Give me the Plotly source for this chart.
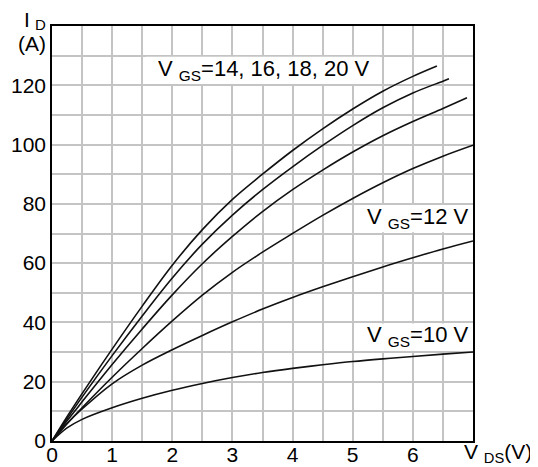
import plotly.graph_objects as go

# Drain-source voltage samples (V)
vds = [0, 0.25, 0.5, 1, 1.5, 2, 2.5, 3, 3.5, 4, 4.5, 5, 5.5, 6, 6.5, 7]

# Drain current (A) per gate voltage
id_vgs20 = [0, 8.2, 16, 31, 45.5, 59.3, 71.3, 81.5, 90, 98, 105.3, 112, 118, 123]
vds_vgs20_end = 6.4
id_vgs20_end = 126.5

id_vgs18 = [0, 7.5, 14.8, 28.8, 42.2, 55, 66.4, 76.2, 84.8, 92.5, 99.7, 106.4, 112.4, 117.4, 121.4]
vds_vgs18_end = 6.6
id_vgs18_end = 122.2

id_vgs16 = [0, 6.8, 13.2, 25.8, 37.8, 49.3, 59.8, 69, 77.4, 84.8, 91.4, 97.5, 103, 107.8, 112.2]
vds_vgs16_end = 6.9
id_vgs16_end = 115.8

id_vgs14 = [0, 5.8, 11.2, 21.5, 31.2, 40.5, 49.2, 56.9, 63.7, 70, 76.1, 81.8, 87.1, 91.9, 96.1, 99.8]
id_vgs12 = [0, 5.9, 10.8, 19.3, 25.6, 30.8, 35.6, 40.2, 44.5, 48.4, 52, 55.4, 58.7, 61.8, 64.8, 67.5]
id_vgs10 = [0, 4.4, 7.3, 11.2, 14.4, 17.1, 19.4, 21.4, 23.1, 24.5, 25.7, 26.8, 27.7, 28.5, 29.3, 30]

# Axis ticks (labelled) and grid steps
x_tickvals = [0, 1, 2, 3, 4, 5, 6]
x_ticktext = ["0", "1", "2", "3", "4", "5", "6"]
y_tickvals = [0, 20, 40, 60, 80, 100, 120]
y_ticktext = ["0", "20", "40", "60", "80", "100", "120"]

FONT = "Liberation Sans, Arial, sans-serif"

series = [
    (vds[:len(id_vgs20)] + [vds_vgs20_end], id_vgs20 + [id_vgs20_end]),
    (vds[:len(id_vgs18)] + [vds_vgs18_end], id_vgs18 + [id_vgs18_end]),
    (vds[:len(id_vgs16)] + [vds_vgs16_end], id_vgs16 + [id_vgs16_end]),
    (vds, id_vgs14),
    (vds, id_vgs12),
    (vds, id_vgs10),
]

fig = go.Figure()
for xs, ys in series:
    fig.add_trace(go.Scatter(x=xs, y=ys, mode="lines",
                             line=dict(color="#111111", width=1.6, shape="spline", smoothing=1.0),
                             showlegend=False, hoverinfo="skip"))

# White label boxes hiding grid lines
for x0, x1, y0, y1 in [(1.56, 5.45, 120.4, 129.6), (5.05, 7, 70.4, 79.6), (5.05, 7, 30.4, 39.6)]:
    fig.add_shape(type="rect", x0=x0, x1=x1, y0=y0, y1=y1, xref="x", yref="y",
                  fillcolor="white", line=dict(width=0), layer="between")

labels = [
    (3.53, 125, "V <sub>GS</sub>=14, 16, 18, 20 V"),
    (6.07, 75.3, "V <sub>GS</sub>=12 V"),
    (6.07, 35.3, "V <sub>GS</sub>=10 V"),
]
for x, y, t in labels:
    fig.add_annotation(x=x, y=y, xref="x", yref="y", text=t, showarrow=False,
                       font=dict(family=FONT, size=22, color="black"),
                       xanchor="center", yanchor="middle")

# Axis titles
fig.add_annotation(x=-0.0594, y=1.016, xref="paper", yref="paper", text="I",
                   showarrow=False, xanchor="center", yanchor="middle", borderpad=0,
                   font=dict(family=FONT, size=21, color="black"))
fig.add_annotation(x=-0.0285, y=1.003, xref="paper", yref="paper", text="D",
                   showarrow=False, xanchor="center", yanchor="middle", borderpad=0,
                   font=dict(family=FONT, size=15, color="black"))
fig.add_annotation(x=-0.012, y=0.958, xref="paper", yref="paper", text="(A)",
                   showarrow=False, xanchor="right", yanchor="middle", borderpad=0,
                   font=dict(family=FONT, size=21, color="black"))
fig.add_annotation(x=0.974, y=-0.03, xref="paper", yref="paper", text="V <sub>DS</sub>(V)",
                   showarrow=False, xanchor="left", yanchor="middle",
                   font=dict(family=FONT, size=21, color="black"))

GRID = "#c4c4c4"
axis_common = dict(showgrid=True, gridcolor=GRID, gridwidth=1.5,
                   showline=True, linecolor="black", linewidth=1.5, mirror=True,
                   zeroline=False, ticks="", tickmode="array", automargin=False,
                   tickfont=dict(family=FONT, size=21, color="black"))

fig.update_xaxes(range=[0, 7], tickvals=x_tickvals, ticktext=x_ticktext,
                 ticklabelstandoff=-6,
                 minor=dict(dtick=0.5, tick0=0, showgrid=True, gridcolor=GRID, gridwidth=1.5),
                 **axis_common)
fig.update_yaxes(range=[0, 140], tickvals=y_tickvals, ticktext=y_ticktext,
                 minor=dict(dtick=10, tick0=0, showgrid=True, gridcolor=GRID, gridwidth=1.5),
                 **axis_common)

# The page body adds an 8 px offset, so the figure is 8 px smaller in each direction
fig.update_layout(width=530, height=459,
                  margin=dict(l=44, r=65, t=18, b=26),
                  paper_bgcolor="white", plot_bgcolor="white",
                  font=dict(family=FONT, size=21, color="black"))

fig.write_html("out.html")
